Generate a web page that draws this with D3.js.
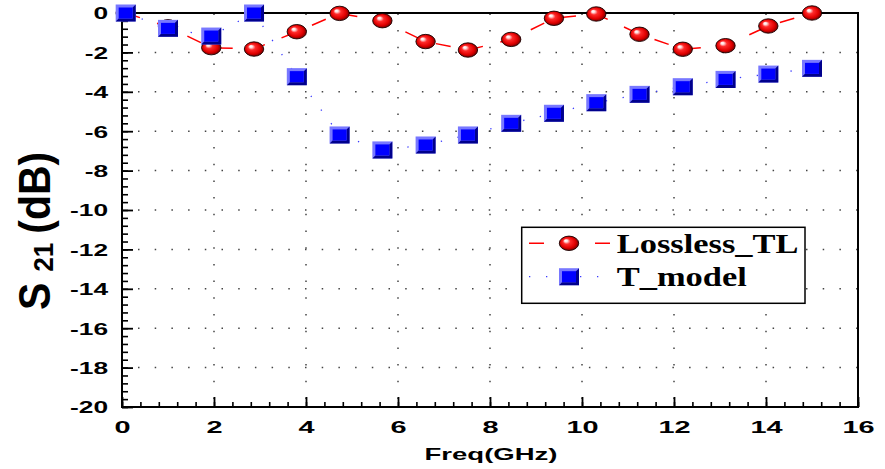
<!DOCTYPE html>
<html>
<head>
<meta charset="utf-8">
<script src="https://cdn.jsdelivr.net/npm/d3@7"></script>
<style>
  body { margin: 0; background: #fff; }
  svg { display: block; }
  .tick text { font-family: Arial, "Liberation Sans", sans-serif; font-weight: bold; font-size: 17px; fill: #000; }
</style>
</head>
<body>
<svg id="chart"></svg>
<script>
// values
const freq = [0.08, 1.0, 1.94, 2.87, 3.8, 4.73, 5.66, 6.6, 7.52, 8.46, 9.39, 10.31, 11.25, 12.19, 13.12, 14.05, 15.0];
const losslessTL = [0, -0.7, -1.76, -1.83, -0.95, -0.02, -0.39, -1.45, -1.88, -1.34, -0.27, -0.05, -1.08, -1.84, -1.66, -0.66, 0];
const tModel = [0, -0.78, -1.17, 0, -3.23, -6.19, -6.95, -6.7, -6.19, -5.6, -5.09, -4.55, -4.13, -3.74, -3.37, -3.1, -2.81];
const xTicks = [0, 2, 4, 6, 8, 10, 12, 14, 16];
const yTicks = [0, -2, -4, -6, -8, -10, -12, -14, -16, -18, -20];
const seriesNames = ["Lossless_TL", "T_model"];

const W = 885, H = 469;
const plot = { left: 122, right: 858, top: 13, bottom: 407 };

const svg = d3.select("#chart").attr("width", W).attr("height", H);

const x = d3.scaleLinear().domain([0, 16]).range([plot.left, plot.right]);
const y = d3.scaleLinear().domain([-20, 0]).range([plot.bottom, plot.top]);

// gradient for the red balls
const defs = svg.append("defs");
const grad = defs.append("radialGradient")
  .attr("id", "ball").attr("cx", 0.5).attr("cy", 0.5).attr("r", 0.55)
  .attr("fx", 0.32).attr("fy", 0.3);
[["0%", "#ffffff"], ["14%", "#ffe0e0"], ["35%", "#ff2a2a"], ["70%", "#e00000"], ["100%", "#5a0000"]]
  .forEach(s => grad.append("stop").attr("offset", s[0]).attr("stop-color", s[1]));

// dotted grid
const grid = svg.append("g").attr("stroke", "#444").attr("stroke-width", 1.5).attr("stroke-dasharray", "1.5,15.2");
grid.selectAll("line.h")
  .data(yTicks.filter(d => d > -20 && d < 0))
  .join("line")
  .attr("class", "h")
  .attr("x1", plot.left + 16).attr("x2", plot.right)
  .attr("y1", d => y(d)).attr("y2", d => y(d));
grid.selectAll("line.v")
  .data(xTicks.filter(d => d > 0 && d < 16))
  .join("line")
  .attr("class", "v")
  .attr("x1", d => x(d)).attr("x2", d => x(d))
  .attr("y1", plot.bottom - 8).attr("y2", plot.top);

// minor ticks
svg.append("g")
  .attr("transform", `translate(${plot.left},0)`)
  .call(d3.axisLeft(y).tickValues(d3.range(-20, 0.01, 0.4)).tickSizeInner(-6).tickSizeOuter(0).tickFormat(""))
  .call(g => g.select(".domain").remove())
  .call(g => g.selectAll("line").attr("stroke-width", 1.6));
svg.append("g")
  .attr("transform", `translate(0,${plot.bottom})`)
  .call(d3.axisBottom(x).tickValues(d3.range(0, 16.01, 0.4)).tickSizeInner(-5).tickSizeOuter(0).tickFormat(""))
  .call(g => g.select(".domain").remove())
  .call(g => g.selectAll("line").attr("stroke-width", 1.6));

// major ticks + labels (labels are stretched wide like the original)
svg.append("g")
  .attr("transform", `translate(${plot.left},0)`)
  .call(d3.axisLeft(y).tickValues(yTicks).tickSizeInner(-11).tickSizeOuter(0).tickFormat(d => String(d)))
  .call(g => g.select(".domain").remove())
  .call(g => g.selectAll("line").attr("stroke-width", 1.8))
  .call(g => g.selectAll("text")
    .attr("x", -9).attr("dy", "0.35em")
    .attr("transform", "scale(1.55,1)"));
svg.append("g")
  .attr("transform", `translate(0,${plot.bottom})`)
  .call(d3.axisBottom(x).tickValues(xTicks).tickSizeInner(-10).tickSizeOuter(0).tickFormat(d => String(d)))
  .call(g => g.select(".domain").remove())
  .call(g => g.selectAll("line").attr("stroke-width", 1.8))
  .call(g => g.selectAll("text")
    .attr("y", 26).attr("dy", 0)
    .attr("transform", "scale(1.7,1)"));

// frame
svg.append("rect")
  .attr("x", plot.left).attr("y", plot.top)
  .attr("width", plot.right - plot.left).attr("height", plot.bottom - plot.top)
  .attr("fill", "none").attr("stroke", "#000").attr("stroke-width", 2);

// axis titles
svg.append("text")
  .attr("transform", "translate(491,460) scale(1.62,1)")
  .attr("text-anchor", "middle")
  .style("font-family", "Arial, 'Liberation Sans', sans-serif")
  .style("font-weight", "bold").style("font-size", "17px")
  .text("Freq(GHz)");

const yTitle = svg.append("text")
  .attr("transform", "translate(50,310) rotate(-90) scale(1,1.08)")
  .style("font-family", "Arial, 'Liberation Sans', sans-serif")
  .style("font-weight", "bold").style("font-size", "41px");
yTitle.append("tspan").text("S");
yTitle.append("tspan").attr("dx", 11).attr("dy", 3).style("font-size", "26px").text("21");
yTitle.append("tspan").attr("dx", 9).attr("dy", -3).text("(dB)");

// markers
function ball(g, cx, cy) {
  g.append("ellipse")
    .attr("cx", cx).attr("cy", cy).attr("rx", 9.7).attr("ry", 7.2)
    .attr("fill", "url(#ball)").attr("stroke", "#1a0000").attr("stroke-width", 0.9);
}
function box(g, cx, cy) {
  const w = 20, h = 17, b = 3;
  const x0 = cx - w / 2, y0 = cy - h / 2, x1 = cx + w / 2, y1 = cy + h / 2;
  g.append("rect").attr("x", x0).attr("y", y0).attr("width", w).attr("height", h).attr("fill", "#7878ff");
  g.append("polygon")
    .attr("points", [[x1, y0], [x1, y1], [x0, y1], [x0 + b, y1 - b], [x1 - b, y1 - b], [x1 - b, y0 + b]].join(" "))
    .attr("fill", "#00008c");
  g.append("rect").attr("x", x0 + b).attr("y", y0 + b).attr("width", w - 2 * b).attr("height", h - 2 * b).attr("fill", "#0000ff");
}

const line = d3.line().x(d => x(d[0])).y(d => y(d[1]));

svg.append("path")
  .datum(freq.map((f, i) => [f, losslessTL[i]]))
  .attr("d", line)
  .attr("fill", "none").attr("stroke", "#ff0000").attr("stroke-width", 1.5)
  .attr("stroke-dasharray", "15,18");
const redG = svg.append("g");
freq.forEach((f, i) => ball(redG, x(f), y(losslessTL[i])));

svg.append("path")
  .datum(freq.map((f, i) => [f, tModel[i]]))
  .attr("d", line)
  .attr("fill", "none").attr("stroke", "#3a3aff").attr("stroke-width", 1.3)
  .attr("stroke-dasharray", "1.3,15.7");
const blueG = svg.append("g");
freq.forEach((f, i) => box(blueG, x(f), y(tModel[i])));

// legend
const leg = svg.append("g");
leg.append("rect")
  .attr("x", 521.7).attr("y", 227.3).attr("width", 283.3).attr("height", 76)
  .attr("fill", "#fff").attr("stroke", "#000").attr("stroke-width", 1.5);
leg.append("line")
  .attr("x1", 529).attr("x2", 610).attr("y1", 243.3).attr("y2", 243.3)
  .attr("stroke", "#ff0000").attr("stroke-width", 1.5).attr("stroke-dasharray", "15,18");
ball(leg, 569, 243.3);
leg.append("line")
  .attr("x1", 529).attr("x2", 600).attr("y1", 276.7).attr("y2", 276.7)
  .attr("stroke", "#3a3aff").attr("stroke-width", 1.3).attr("stroke-dasharray", "1.3,15.7");
box(leg, 569, 276.7);
leg.selectAll("text")
  .data(seriesNames)
  .join("text")
  .attr("transform", (d, i) => `translate(616.7,${i === 0 ? 253.3 : 285.7}) scale(1.3,1)`)
  .style("font-family", "'Times New Roman', 'Liberation Serif', serif")
  .style("font-weight", "bold").style("font-size", "26.5px")
  .text(d => d);
</script>
</body>
</html>
